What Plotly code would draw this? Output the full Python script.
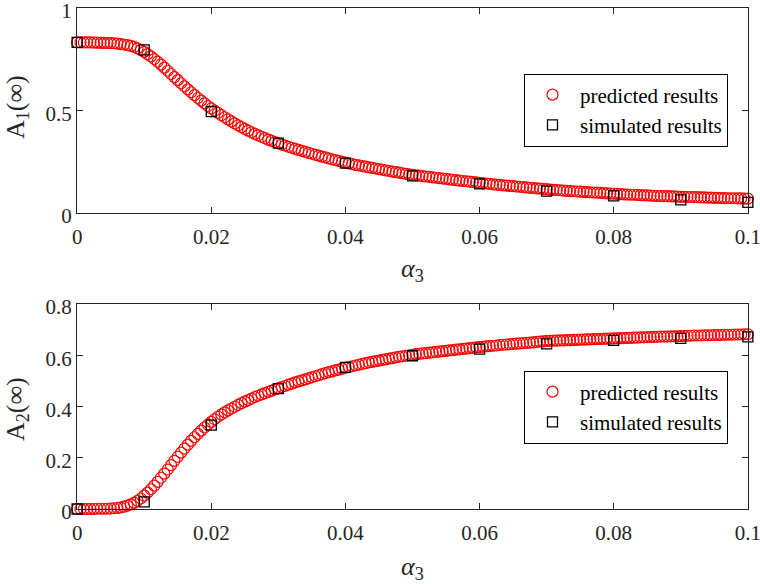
import plotly.graph_objects as go

# ---------------- data ----------------
alpha_pred = [i / 2000 for i in range(201)]
A1_pred = [
    0.832, 0.832, 0.832, 0.832, 0.832, 0.831, 0.831, 0.830, 0.830, 0.829,
    0.829, 0.828, 0.826, 0.824, 0.822, 0.819, 0.815, 0.810, 0.803, 0.795,
    0.786, 0.775, 0.764, 0.751, 0.738, 0.724, 0.709, 0.694, 0.678, 0.663,
    0.648, 0.633, 0.618, 0.603, 0.589, 0.575, 0.561, 0.548, 0.535, 0.522,
    0.510, 0.499, 0.488, 0.477, 0.467, 0.457, 0.447, 0.437, 0.428, 0.419,
    0.410, 0.402, 0.394, 0.386, 0.379, 0.372, 0.365, 0.358, 0.352, 0.346,
    0.340, 0.334, 0.329, 0.323, 0.318, 0.313, 0.308, 0.303, 0.298, 0.293,
    0.289, 0.284, 0.280, 0.275, 0.271, 0.266, 0.262, 0.258, 0.254, 0.250,
    0.246, 0.242, 0.239, 0.235, 0.232, 0.229, 0.226, 0.223, 0.220, 0.217,
    0.214, 0.211, 0.208, 0.205, 0.202, 0.199, 0.197, 0.194, 0.191, 0.188,
    0.186, 0.184, 0.182, 0.180, 0.178, 0.176, 0.174, 0.172, 0.170, 0.168,
    0.166, 0.164, 0.162, 0.160, 0.158, 0.156, 0.155, 0.153, 0.151, 0.149,
    0.147, 0.145, 0.144, 0.142, 0.140, 0.138, 0.137, 0.135, 0.134, 0.132,
    0.131, 0.129, 0.128, 0.126, 0.125, 0.123, 0.122, 0.120, 0.119, 0.117,
    0.116, 0.114, 0.113, 0.112, 0.111, 0.109, 0.108, 0.107, 0.106, 0.105,
    0.104, 0.103, 0.102, 0.101, 0.100, 0.099, 0.098, 0.097, 0.096, 0.095,
    0.094, 0.093, 0.092, 0.091, 0.090, 0.089, 0.089, 0.088, 0.087, 0.086,
    0.086, 0.085, 0.084, 0.083, 0.083, 0.082, 0.082, 0.081, 0.081, 0.080,
    0.079, 0.079, 0.078, 0.078, 0.077, 0.077, 0.076, 0.076, 0.075, 0.075,
    0.074, 0.074, 0.073, 0.073, 0.072, 0.072, 0.072, 0.071, 0.071, 0.070,
    0.070,
]
A2_pred = [
    0.000, 0.000, 0.000, 0.000, 0.000, 0.000, 0.001, 0.001, 0.001, 0.001,
    0.002, 0.003, 0.004, 0.006, 0.009, 0.013, 0.018, 0.024, 0.032, 0.041,
    0.052, 0.064, 0.077, 0.091, 0.106, 0.122, 0.138, 0.154, 0.171, 0.188,
    0.204, 0.220, 0.236, 0.251, 0.266, 0.280, 0.293, 0.306, 0.318, 0.329,
    0.340, 0.350, 0.360, 0.369, 0.377, 0.385, 0.392, 0.399, 0.406, 0.413,
    0.419, 0.425, 0.431, 0.437, 0.442, 0.447, 0.452, 0.457, 0.462, 0.467,
    0.471, 0.476, 0.480, 0.485, 0.489, 0.494, 0.498, 0.502, 0.506, 0.510,
    0.514, 0.518, 0.522, 0.526, 0.530, 0.534, 0.537, 0.541, 0.544, 0.548,
    0.551, 0.554, 0.557, 0.560, 0.563, 0.566, 0.569, 0.572, 0.574, 0.577,
    0.579, 0.582, 0.584, 0.587, 0.589, 0.592, 0.594, 0.596, 0.598, 0.600,
    0.602, 0.604, 0.605, 0.607, 0.608, 0.610, 0.611, 0.613, 0.614, 0.616,
    0.617, 0.619, 0.620, 0.622, 0.623, 0.625, 0.626, 0.628, 0.629, 0.631,
    0.632, 0.633, 0.635, 0.636, 0.637, 0.638, 0.640, 0.641, 0.642, 0.643,
    0.644, 0.645, 0.646, 0.647, 0.648, 0.649, 0.650, 0.652, 0.653, 0.654,
    0.656, 0.656, 0.657, 0.657, 0.658, 0.658, 0.659, 0.659, 0.660, 0.660,
    0.661, 0.661, 0.662, 0.662, 0.663, 0.663, 0.664, 0.664, 0.665, 0.665,
    0.666, 0.666, 0.667, 0.667, 0.668, 0.668, 0.669, 0.669, 0.670, 0.670,
    0.671, 0.671, 0.672, 0.672, 0.673, 0.673, 0.673, 0.674, 0.674, 0.674,
    0.675, 0.675, 0.676, 0.676, 0.677, 0.677, 0.677, 0.678, 0.678, 0.678,
    0.679, 0.679, 0.679, 0.680, 0.680, 0.680, 0.681, 0.681, 0.681, 0.682,
    0.682,
]

alpha_sim = [0.0, 0.01, 0.02, 0.03, 0.04, 0.05, 0.06, 0.07, 0.08, 0.09, 0.1]
A1_sim = [0.832, 0.796, 0.495, 0.341, 0.243, 0.181, 0.142, 0.107, 0.084, 0.064, 0.052]
A2_sim = [0.000, 0.028, 0.327, 0.470, 0.553, 0.598, 0.624, 0.644, 0.658, 0.666, 0.672]

x_ticks = [0, 0.02, 0.04, 0.06, 0.08, 0.1]
x_ticklabels = ["0", "0.02", "0.04", "0.06", "0.08", "0.1"]
y1_ticks = [0, 0.5, 1]
y1_ticklabels = ["0", "0.5", "1"]
y2_ticks = [0, 0.2, 0.4, 0.6, 0.8]
y2_ticklabels = ["0", "0.2", "0.4", "0.6", "0.8"]

# ---------------- style ----------------
FONT = "Liberation Serif"
AX = "#262626"
FS = 21
TFS = 26
TICKFONT = dict(family=FONT, size=FS, color=AX)

pred_marker = dict(symbol="circle-open", size=11, color="#ff0000", line=dict(width=1.2, color="#ff0000"))
sim_marker = dict(symbol="square-open", size=10, color="#000000", line=dict(width=1.3, color="#000000"))

fig = go.Figure()
fig.add_trace(go.Scatter(x=alpha_pred, y=A1_pred, mode="markers", marker=pred_marker, cliponaxis=False,
                         name="predicted results", xaxis="x", yaxis="y", legend="legend"))
fig.add_trace(go.Scatter(x=alpha_sim, y=A1_sim, mode="markers", marker=sim_marker, cliponaxis=False,
                         name="simulated results", xaxis="x", yaxis="y", legend="legend"))
fig.add_trace(go.Scatter(x=alpha_pred, y=A2_pred, mode="markers", marker=pred_marker, cliponaxis=False,
                         name="predicted results", xaxis="x2", yaxis="y2", legend="legend2"))
fig.add_trace(go.Scatter(x=alpha_sim, y=A2_sim, mode="markers", marker=sim_marker, cliponaxis=False,
                         name="simulated results", xaxis="x2", yaxis="y2", legend="legend2"))

W, H = 760, 584
ml, mr, mt, mb = 77, 12, 8, 75
pw = W - ml - mr
ph = H - mt - mb


def py(ypx):
    return (H - mb - ypx) / ph


def px(xpx):
    return (xpx - ml) / pw


common_x = dict(range=[-0.00002, 0.10002], tickvals=x_ticks, ticktext=x_ticklabels, ticks="inside",
                ticklen=6, tickcolor=AX, showline=True, linecolor=AX, linewidth=1,
                mirror="allticks", showgrid=False, zeroline=False, tickfont=TICKFONT, automargin=False,
                ticklabeloverflow="allow", ticklabelstandoff=5)
common_y = dict(ticks="inside", ticklen=6, tickcolor=AX, showline=True, linecolor=AX,
                linewidth=1, mirror="allticks", showgrid=False, zeroline=False, tickfont=TICKFONT,
                automargin=False, ticklabeloverflow="allow", ticklabelshift=3)

legend_style = dict(bgcolor="white", bordercolor="#000000", borderwidth=1,
                    font=dict(family=FONT, size=FS, color="#000000"),
                    xanchor="left", yanchor="middle", tracegroupgap=0, itemsizing="trace",
                    itemwidth=45)

title_font = dict(family=FONT, size=TFS, color=AX)
annotations = [
    dict(text="<i>α</i><sub>3</sub>", x=0.5, y=py(270), xref="paper", yref="paper",
         xanchor="center", yanchor="middle", showarrow=False, font=title_font),
    dict(text="<i>α</i><sub>3</sub>", x=0.5, y=py(568), xref="paper", yref="paper",
         xanchor="center", yanchor="middle", showarrow=False, font=title_font),
    dict(text="A<sub>1</sub>(∞)", x=px(17), y=py(107), xref="paper", yref="paper",
         xanchor="center", yanchor="middle", showarrow=False, textangle=-90, font=title_font),
    dict(text="A<sub>2</sub>(∞)", x=px(17), y=py(409), xref="paper", yref="paper",
         xanchor="center", yanchor="middle", showarrow=False, textangle=-90, font=title_font),
]

fig.update_layout(
    width=W, height=H,
    margin=dict(l=ml, r=mr, t=mt, b=mb, autoexpand=False),
    paper_bgcolor="white", plot_bgcolor="white",
    font=dict(family=FONT, color=AX),
    xaxis=dict(domain=[0, 1], anchor="y", **common_x),
    yaxis=dict(domain=[py(213), 1], anchor="x", range=[0, 1], tickvals=y1_ticks, ticktext=y1_ticklabels,
               **common_y),
    xaxis2=dict(domain=[0, 1], anchor="y2", **common_x),
    yaxis2=dict(domain=[0, py(304)], anchor="x2", range=[0, 0.8], tickvals=y2_ticks,
                ticktext=y2_ticklabels, **common_y),
    legend=dict(x=px(524), y=py(110), **legend_style),
    legend2=dict(x=px(524), y=py(407), **legend_style),
    annotations=annotations,
)

fig.write_html("out.html",
               config={"displayModeBar": False},
               post_script="document.body.style.margin='0';document.body.style.padding='0';")
